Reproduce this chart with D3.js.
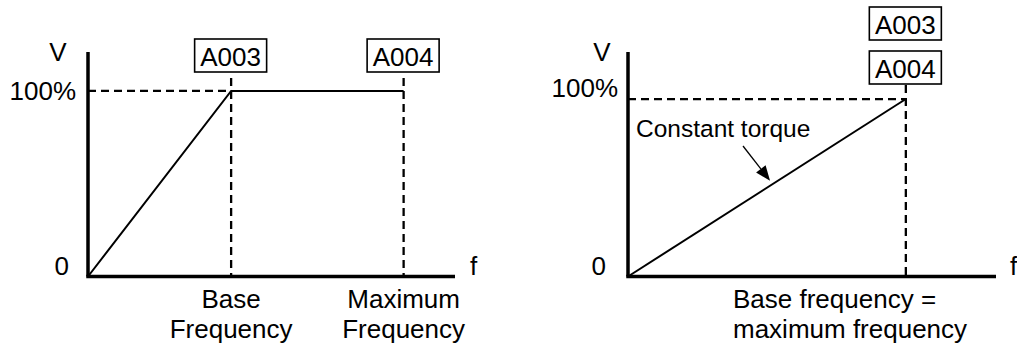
<!DOCTYPE html>
<html>
<head>
<meta charset="utf-8">
<script src="https://cdn.jsdelivr.net/npm/d3@7"></script>
<style>
body { margin: 0; background: #fff; }
text { font-family: "Liberation Sans", Arial, Helvetica, sans-serif; fill: #000; }
</style>
</head>
<body>
<svg id="chart" width="1017" height="347"></svg>
<script>
// left panel: V/f with base frequency below maximum frequency
var leftFreq = [0, 39, 86];
var leftVolt = [0, 100, 100];
var leftMarks = [
    {f: 39, code: "A003", lines: ["Base", "Frequency"]},
    {f: 86, code: "A004", lines: ["Maximum", "Frequency"]}
];

// right panel: base frequency = maximum frequency
var rightFreq = [0, 75.5];
var rightVolt = [0, 100];
var rightCodes = ["A003", "A004"];
var rightLabel = ["Base frequency =", "maximum frequency"];

var svg = d3.select("#chart");

function drawAxes(g, x, y) {
    var x0 = x.range()[0], x1 = x.range()[1], y0 = y.range()[0];
    g.append("line").attr("x1", x0).attr("y1", y0).attr("x2", x0).attr("y2", y.range()[1])
        .attr("stroke", "#000").attr("stroke-width", 3.5);
    g.append("line").attr("x1", x0 - 1.75).attr("y1", y0).attr("x2", x1).attr("y2", y0)
        .attr("stroke", "#000").attr("stroke-width", 3.5);
}

function dashed(g, x1, y1, x2, y2) {
    g.append("line").attr("x1", x1).attr("y1", y1).attr("x2", x2).attr("y2", y2)
        .attr("stroke", "#000").attr("stroke-width", 2.3)
        .attr("stroke-dasharray", "8,5");
}

function codeBox(g, cx, top, code) {
    g.append("rect").attr("x", cx - 36).attr("y", top).attr("width", 72).attr("height", 33)
        .attr("fill", "#fff").attr("stroke", "#000").attr("stroke-width", 1.6);
    g.append("text").attr("x", cx).attr("y", top + 27).attr("text-anchor", "middle")
        .attr("font-size", 26).text(code);
}

var line = d3.line();

// ---------- left ----------
var xL = d3.scaleLinear().domain([0, 100]).range([88, 455]);
var yL = d3.scaleLinear().domain([0, 121]).range([276.5, 52]);
var gL = svg.append("g");

dashed(gL, xL(0), yL(100), xL(leftMarks[0].f), yL(100));
leftMarks.forEach(function(m) {
    dashed(gL, xL(m.f), 78, xL(m.f), yL(0));
    codeBox(gL, xL(m.f) - 0.5, 39, m.code);
    m.lines.forEach(function(t, i) {
        gL.append("text").attr("x", xL(m.f)).attr("y", 308 + i * 30)
            .attr("text-anchor", "middle").attr("font-size", 26).text(t);
    });
});
drawAxes(gL, xL, yL);
gL.append("path")
    .attr("d", line(leftFreq.map(function(f, i) { return [xL(f), yL(leftVolt[i])]; })))
    .attr("fill", "none").attr("stroke", "#000").attr("stroke-width", 2);

gL.append("text").attr("x", 58).attr("y", 61).attr("text-anchor", "middle").attr("font-size", 26).text("V");
gL.append("text").attr("x", 76).attr("y", yL(100) + 9).attr("text-anchor", "end").attr("font-size", 26).text("100%");
gL.append("text").attr("x", 69).attr("y", 275).attr("text-anchor", "end").attr("font-size", 26).text("0");
gL.append("text").attr("x", 470).attr("y", 275).attr("font-size", 26).text("f");

// ---------- right ----------
var xR = d3.scaleLinear().domain([0, 100]).range([628, 996]);
var yR = d3.scaleLinear().domain([0, 126.5]).range([276.5, 52]);
var gR = svg.append("g");

var fB = rightFreq[1];
dashed(gR, xR(0), yR(100), xR(fB), yR(100));
dashed(gR, xR(fB), 85, xR(fB), yR(0));
rightCodes.forEach(function(c, i) {
    codeBox(gR, xR(fB) - 0.5, 7 + i * 44, c);
});
drawAxes(gR, xR, yR);
gR.append("path")
    .attr("d", line(rightFreq.map(function(f, i) { return [xR(f), yR(rightVolt[i])]; })))
    .attr("fill", "none").attr("stroke", "#000").attr("stroke-width", 2);

gR.append("text").attr("x", 602).attr("y", 61).attr("text-anchor", "middle").attr("font-size", 26).text("V");
gR.append("text").attr("x", 618).attr("y", yR(100) - 2).attr("text-anchor", "end").attr("font-size", 26).text("100%");
gR.append("text").attr("x", 606).attr("y", 275).attr("text-anchor", "end").attr("font-size", 26).text("0");
gR.append("text").attr("x", 1010).attr("y", 275).attr("font-size", 26).text("f");

rightLabel.forEach(function(t, i) {
    gR.append("text").attr("x", 733).attr("y", 308 + i * 30).attr("font-size", 26).text(t);
});

// "Constant torque" annotation with arrow to the line
gR.append("text").attr("x", 636).attr("y", 137).attr("font-size", 24.5).text("Constant torque");
var fA = 38.6;
var tipX = xR(fA), tipY = yR(rightVolt[1] * fA / fB) - 5;
var sx = 743, sy = 146;
var ang = Math.atan2(tipY - sy, tipX - sx);
var hl = 15, hw = 6;
var bx = tipX - hl * Math.cos(ang), by = tipY - hl * Math.sin(ang);
gR.append("line").attr("x1", sx).attr("y1", sy).attr("x2", bx).attr("y2", by)
    .attr("stroke", "#000").attr("stroke-width", 1.3);
gR.append("path")
    .attr("d", "M" + tipX + "," + tipY +
        "L" + (bx + hw * Math.sin(ang)) + "," + (by - hw * Math.cos(ang)) +
        "L" + (bx - hw * Math.sin(ang)) + "," + (by + hw * Math.cos(ang)) + "Z")
    .attr("fill", "#000");
</script>
</body>
</html>
